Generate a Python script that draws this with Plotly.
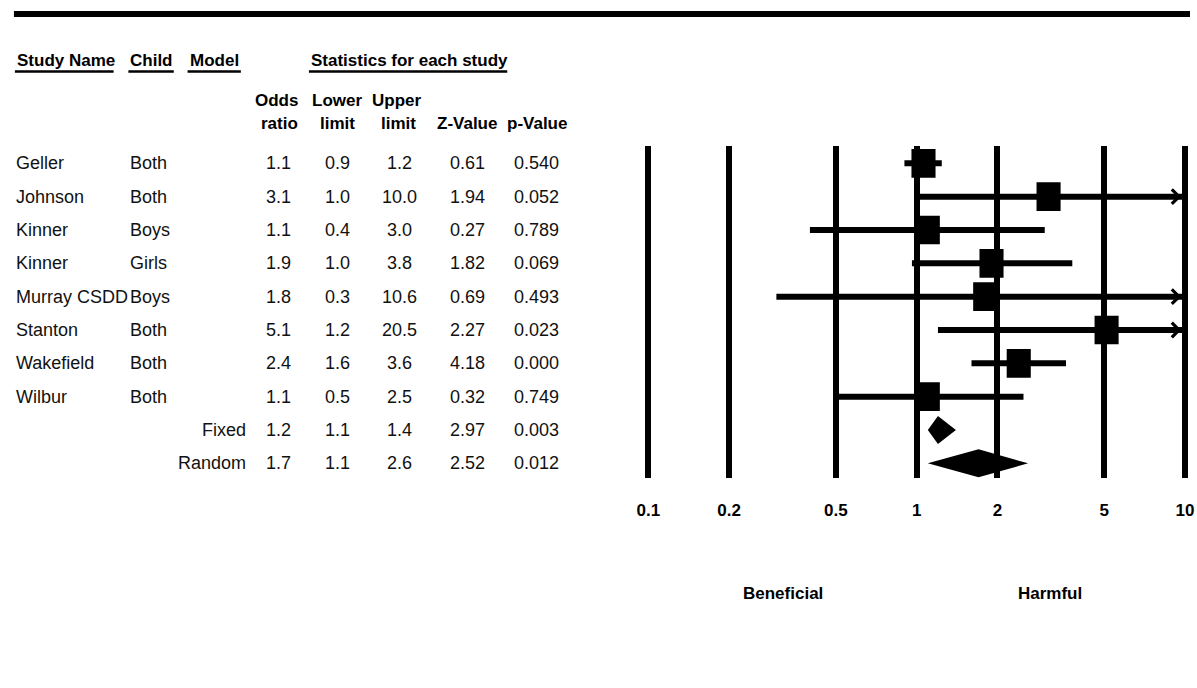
import math
import plotly.graph_objects as go

W, H = 1197, 688

# ---- data ----
study_names = ["Geller", "Johnson", "Kinner", "Kinner", "Murray CSDD", "Stanton", "Wakefield", "Wilbur", "", ""]
child = ["Both", "Both", "Boys", "Girls", "Boys", "Both", "Both", "Both", "", ""]
model = ["", "", "", "", "", "", "", "", "Fixed", "Random"]
odds_ratio = [1.06, 3.1, 1.1, 1.9, 1.8, 5.1, 2.4, 1.1, 1.2, 1.7]
lower_limit = [0.9, 1.0, 0.4, 0.96, 0.3, 1.2, 1.6, 0.5, 1.1, 1.1]
upper_limit = [1.24, 10.0, 3.0, 3.8, 10.6, 20.5, 3.6, 2.5, 1.4, 2.6]
z_value = [0.61, 1.94, 0.27, 1.82, 0.69, 2.27, 4.18, 0.32, 2.97, 2.52]
p_value = [0.540, 0.052, 0.789, 0.069, 0.493, 0.023, 0.000, 0.749, 0.003, 0.012]
is_summary = [False] * 8 + [True, True]
tick_vals = [0.1, 0.2, 0.5, 1, 2, 5, 10]
tick_text = ["0.1", "0.2", "0.5", "1", "2", "5", "10"]
x_min, x_max = 0.1, 10

FONT = "Liberation Sans, Arial, sans-serif"
TXT = "#111111"

# pixel geometry of the forest panel
X_LEFT_PX, X_RIGHT_PX = 648, 1192
DEC_PX = (X_RIGHT_PX - X_LEFT_PX) / 2.0


def px(x):
    return x / W


def py(y):
    return 1 - y / H


rows = list(range(len(odds_ratio)))
fig = go.Figure()

# whiskers (clipped at axis max)
wx, wy = [], []
for r, s in zip(rows, is_summary):
    if s:
        continue
    wx += [lower_limit[r], min(upper_limit[r], x_max), None]
    wy += [r, r, None]
fig.add_trace(go.Scatter(x=wx, y=wy, mode="lines", line=dict(color="black", width=6),
                         hoverinfo="skip", showlegend=False))

# study boxes (24px wide, ~0.86 row tall)
hw = 12.2 / DEC_PX  # half width in decades
hh = 0.43
bx, by = [], []
for r in rows:
    if is_summary[r]:
        continue
    o = odds_ratio[r]
    lo_, hi_ = o * 10 ** (-hw), o * 10 ** hw
    bx += [lo_, hi_, hi_, lo_, lo_, None]
    by += [r - hh, r - hh, r + hh, r + hh, r - hh, None]
fig.add_trace(go.Scatter(x=bx, y=by, mode="lines", fill="toself", fillcolor="black",
                         line=dict(color="black", width=0), hoverinfo="skip", showlegend=False))

# summary diamonds
h = 0.42
for r in rows:
    if not is_summary[r]:
        continue
    fig.add_trace(go.Scatter(
        x=[lower_limit[r], odds_ratio[r], upper_limit[r], odds_ratio[r], lower_limit[r]],
        y=[r, r - h, r, r + h, r],
        mode="lines", fill="toself", fillcolor="black", line=dict(color="black", width=0),
        showlegend=False, hoverinfo="skip"))

annotations = []
# arrows for CIs extending beyond axis
for r in rows:
    if not is_summary[r] and upper_limit[r] >= x_max:
        annotations.append(dict(
            x=math.log10(x_max) - 0.014, y=r, xref="x", yref="y",
            ax=math.log10(x_max) - 0.15, ay=r, axref="x", ayref="y",
            text="", showarrow=True, arrowhead=4, arrowsize=1, arrowwidth=2.8,
            arrowcolor="black"))

# table rows
col_fmt = [
    (odds_ratio, "{:.1f}", 273),
    (lower_limit, "{:.1f}", 333),
    (upper_limit, "{:.1f}", 396),
    (z_value, "{:.2f}", 465),
    (p_value, "{:.3f}", 535),
]
for r in rows:
    base = dict(xref="paper", yref="y", y=r, yanchor="middle", showarrow=False,
                font=dict(family=FONT, size=18, color=TXT))
    if study_names[r]:
        annotations.append(dict(base, x=px(5), xanchor="left", text=study_names[r]))
    if child[r]:
        annotations.append(dict(base, x=px(121), xanchor="left", text=child[r]))
    if model[r]:
        annotations.append(dict(base, x=px(242), xanchor="right", text=model[r]))
    for vals, fmt, cx in col_fmt:
        annotations.append(dict(base, x=px(cx), xanchor="center", text=fmt.format(vals[r])))

bold = dict(family=FONT, size=17, color="black")
hdrs = [
    ("Study Name", 6, 60, "left"), ("Child", 121, 60, "left"), ("Model", 181, 60, "left"),
    ("Statistics for each study", 304, 60, "left"),
    ("Odds", 271, 100, "center"), ("Lower", 332, 100, "center"), ("Upper", 393, 100, "center"),
    ("ratio", 274, 124, "center"), ("limit", 333, 124, "center"), ("limit", 395, 124, "center"),
    ("Z-Value", 464, 124, "center"), ("p-Value", 535, 124, "center"),
    ("Beneficial", 784, 593, "center"), ("Harmful", 1055, 593, "center"),
]
for t, x, y, anc in hdrs:
    annotations.append(dict(text="<b>%s</b>" % t, x=px(x), y=py(y), xref="paper", yref="paper",
                            xanchor=anc, yanchor="middle", showarrow=False, font=bold))

shapes = [dict(type="line", xref="paper", yref="paper", x0=px(5), x1=1.0, y0=py(14), y1=py(14),
               line=dict(color="black", width=6))]
for x0, x1 in [(6, 106), (121, 167), (181, 235), (304, 505)]:
    shapes.append(dict(type="line", xref="paper", yref="paper", x0=px(x0), x1=px(x1),
                       y0=py(71.5), y1=py(71.5), line=dict(color="black", width=2.5)))

pad = 0.01
fig.update_layout(
    width=W, height=H, margin=dict(l=0, r=0, t=0, b=0),
    paper_bgcolor="white", plot_bgcolor="white",
    showlegend=False,
    xaxis=dict(type="log", range=[math.log10(x_min) - pad, math.log10(x_max) + pad],
               domain=[px(X_LEFT_PX - pad * DEC_PX), min(1.0, px(X_RIGHT_PX + pad * DEC_PX))],
               tickvals=tick_vals, ticktext=tick_text,
               showgrid=True, gridcolor="black", gridwidth=5.5,
               showline=False, zeroline=False,
               ticks="outside", ticklen=17, tickcolor="rgba(0,0,0,0)",
               ticklabeloverflow="allow",
               tickfont=dict(family=FONT, size=17, color="black", weight="bold"),
               fixedrange=True),
    yaxis=dict(range=[9.44, -0.52], domain=[py(478), py(146)],
               showgrid=False, zeroline=False, showline=False, showticklabels=False,
               fixedrange=True),
    annotations=annotations, shapes=shapes,
)

fig.write_html("out.html", config={"displayModeBar": False},
               post_script="document.body.style.margin='0';")
